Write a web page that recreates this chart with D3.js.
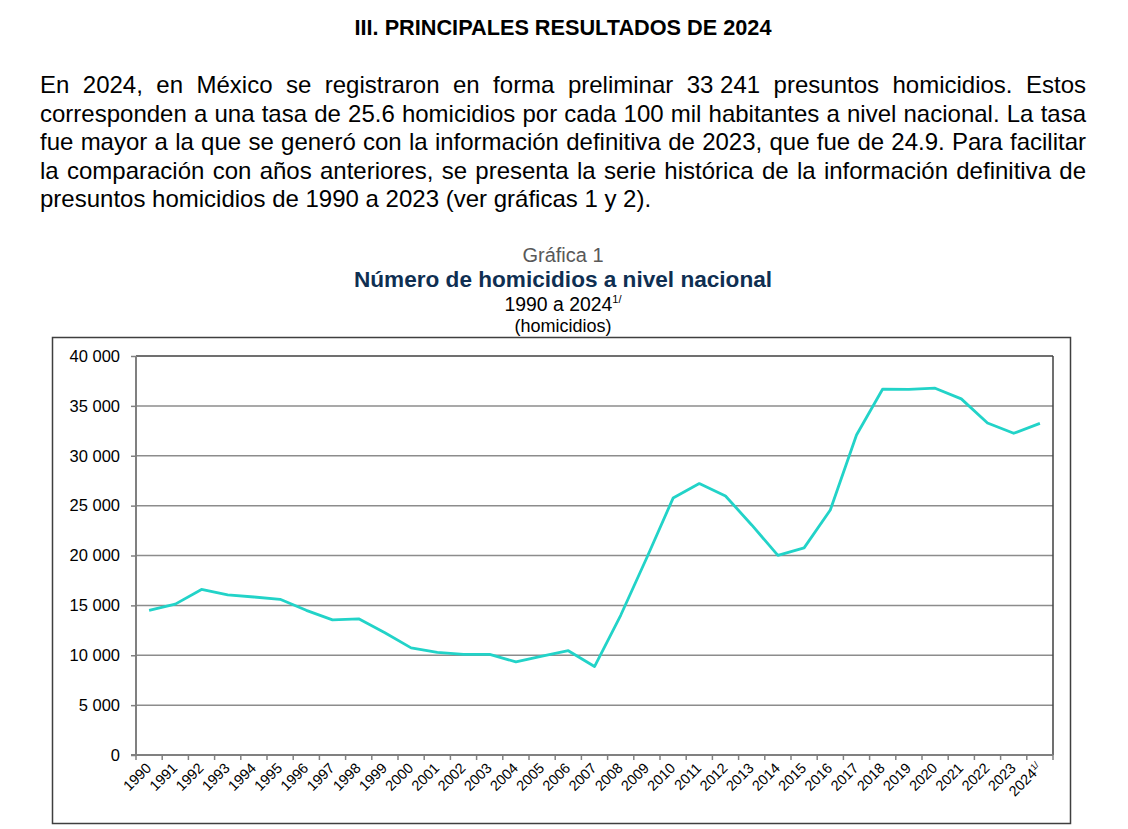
<!DOCTYPE html>
<html>
<head>
<meta charset="utf-8">
<script src="https://cdn.jsdelivr.net/npm/d3@7"></script>
<style>
	body { margin: 0; background: #fff; }
	svg text { font-family: "Liberation Sans", Arial, sans-serif; }
	.para { font-size: 24px; fill: #000; }
	.tickLabel { font-size: 16.5px; fill: #000; }
	.yearLabel { font-size: 14.5px; fill: #000; }
</style>
</head>
<body>
<div id="chart"></div>
<script>
// valores
var years = ["1990","1991","1992","1993","1994","1995","1996","1997","1998","1999",
	"2000","2001","2002","2003","2004","2005","2006","2007","2008","2009",
	"2010","2011","2012","2013","2014","2015","2016","2017","2018","2019",
	"2020","2021","2022","2023","2024"]
var homicides = [14493, 15125, 16594, 16050, 15839, 15612, 14505, 13552, 13656, 12249,
	10737, 10285, 10088, 10087, 9329, 9921, 10452, 8867, 14006, 19803,
	25757, 27213, 25967, 23063, 20010, 20762, 24559, 32079, 36685, 36661,
	36773, 35700, 33287, 32252, 33241]
var yTicks = [0, 5000, 10000, 15000, 20000, 25000, 30000, 35000, 40000]

var heading = "III. PRINCIPALES RESULTADOS DE 2024"
var paragraph = [
	"En 2024, en México se registraron en forma preliminar 33\u00a0241 presuntos homicidios. Estos",
	"corresponden a una tasa de 25.6 homicidios por cada 100 mil habitantes a nivel nacional. La tasa",
	"fue mayor a la que se generó con la información definitiva de 2023, que fue de 24.9. Para facilitar",
	"la comparación con años anteriores, se presenta la serie histórica de la información definitiva de",
	"presuntos homicidios de 1990 a 2023 (ver gráficas 1 y 2)."
]

var WIDTH = 1128, HEIGHT = 829
var CENTER = 563
var PARA_LEFT = 40, PARA_RIGHT = 1086, PARA_Y0 = 93, PARA_LH = 28.5
var PLOT = {left: 136, right: 1053, top: 356, bottom: 755}
var LINE_COLOR = "#22d3c8"

var locale = d3.formatLocale({decimal: ".", thousands: " ", grouping: [3], currency: ["", ""]})
var fmt = locale.format(",d")

var svg = d3.select("#chart").append("svg")
	.attr("width", WIDTH)
	.attr("height", HEIGHT)

function buildText(){
	svg.append("text")
		.attr("x", CENTER)
		.attr("y", 35)
		.attr("text-anchor", "middle")
		.style("font-size", "21.7px")
		.style("font-weight", "bold")
		.text(heading)

	// justified paragraph, last line left aligned
	paragraph.forEach(function(line, i){
		var words = line.split(" ")
		var t = svg.append("text")
			.attr("class", "para")
			.attr("y", PARA_Y0 + i * PARA_LH)
		var spans = words.map(function(w){ return t.append("tspan").text(w) })
		var widths = spans.map(function(s){ return s.node().getComputedTextLength() })
		var total = d3.sum(widths)
		var gap
		if(i == paragraph.length - 1){
			gap = 0.278 * 24
		}else{
			gap = (PARA_RIGHT - PARA_LEFT - total) / (words.length - 1)
		}
		var x = PARA_LEFT
		spans.forEach(function(s, j){
			s.attr("x", x)
			x += widths[j] + gap
		})
	})

	svg.append("text")
		.attr("x", CENTER)
		.attr("y", 261.5)
		.attr("text-anchor", "middle")
		.style("font-size", "20px")
		.style("fill", "#595959")
		.text("Gráfica 1")

	svg.append("text")
		.attr("x", CENTER)
		.attr("y", 286.5)
		.attr("text-anchor", "middle")
		.style("font-size", "22.6px")
		.style("font-weight", "bold")
		.style("fill", "#0f2f52")
		.text("Número de homicidios a nivel nacional")

	var sub = svg.append("text")
		.attr("x", CENTER)
		.attr("y", 310.5)
		.attr("text-anchor", "middle")
		.style("font-size", "19.4px")
	sub.append("tspan").text("1990 a 2024")
	sub.append("tspan")
		.attr("dy", -8)
		.style("font-size", "11px")
		.text("1/")

	svg.append("text")
		.attr("x", CENTER)
		.attr("y", 331.5)
		.attr("text-anchor", "middle")
		.style("font-size", "18px")
		.text("(homicidios)")
}

function buildChart(){
	svg.append("rect")
		.attr("x", 52.5)
		.attr("y", 337.5)
		.attr("width", 1018)
		.attr("height", 486)
		.attr("fill", "none")
		.attr("stroke", "#3f3f3f")
		.attr("stroke-width", 1.5)

	var x = d3.scaleBand()
		.domain(years)
		.range([PLOT.left, PLOT.right])

	var y = d3.scaleLinear()
		.domain([0, 40000])
		.range([PLOT.bottom, PLOT.top])

	// gridlines
	svg.selectAll(".grid")
		.data(yTicks.filter(function(d){ return d > 0 }))
		.enter()
		.append("line")
		.attr("class", "grid")
		.attr("x1", PLOT.left)
		.attr("x2", PLOT.right)
		.attr("y1", function(d){ return y(d) })
		.attr("y2", function(d){ return y(d) })
		.attr("stroke", function(d){ return d == 40000 ? "#404040" : "#8c8c8c" })
		.attr("stroke-width", 1.5)

	// right border of plot area
	svg.append("line")
		.attr("x1", PLOT.right)
		.attr("x2", PLOT.right)
		.attr("y1", y(40000))
		.attr("y2", y(0))
		.attr("stroke", "#404040")
		.attr("stroke-width", 1.5)

	var yAxis = svg.append("g")
		.attr("transform", "translate(" + PLOT.left + ",0)")
		.call(d3.axisLeft(y)
			.tickValues(yTicks)
			.tickSize(5)
			.tickPadding(11)
			.tickFormat(fmt))
	yAxis.select(".domain").remove()
	yAxis.selectAll(".tick line").attr("stroke", "#808080").attr("stroke-width", 1.5)
	yAxis.selectAll(".tick text")
		.attr("class", "tickLabel")
		.attr("font-family", null)
		.attr("font-size", null)

	svg.append("line")
		.attr("x1", PLOT.left)
		.attr("x2", PLOT.left)
		.attr("y1", y(40000))
		.attr("y2", y(0) + 1)
		.attr("stroke", "#808080")
		.attr("stroke-width", 2)

	// x axis: ticks between categories
	var bounds = years.map(function(d){ return x(d) }).concat([PLOT.right])
	svg.selectAll(".xtick")
		.data(bounds)
		.enter()
		.append("line")
		.attr("class", "xtick")
		.attr("x1", function(d){ return d })
		.attr("x2", function(d){ return d })
		.attr("y1", y(0))
		.attr("y2", y(0) + 5)
		.attr("stroke", "#808080")
		.attr("stroke-width", 1.5)

	svg.append("line")
		.attr("x1", PLOT.left - 5)
		.attr("x2", PLOT.right)
		.attr("y1", y(0))
		.attr("y2", y(0))
		.attr("stroke", "#808080")
		.attr("stroke-width", 2)

	var labels = svg.selectAll(".yearLabel")
		.data(years)
		.enter()
		.append("text")
		.attr("class", "yearLabel")
		.attr("text-anchor", "end")
		.attr("transform", function(d){
			return "translate(" + (x(d) + x.bandwidth()/2 + 3) + "," + (y(0) + 14) + ") rotate(-45)"
		})
	labels.append("tspan").text(function(d){ return d })
	labels.filter(function(d){ return d == "2024" })
		.append("tspan")
		.attr("dy", -5)
		.style("font-size", "9px")
		.text("1/")

	var line = d3.line()
		.x(function(d, i){ return x(years[i]) + x.bandwidth()/2 })
		.y(function(d){ return y(d) })

	svg.append("path")
		.datum(homicides)
		.attr("d", line)
		.attr("fill", "none")
		.attr("stroke", LINE_COLOR)
		.attr("stroke-width", 2.8)
		.attr("stroke-linejoin", "round")
}

buildText()
buildChart()
</script>
</body>
</html>
